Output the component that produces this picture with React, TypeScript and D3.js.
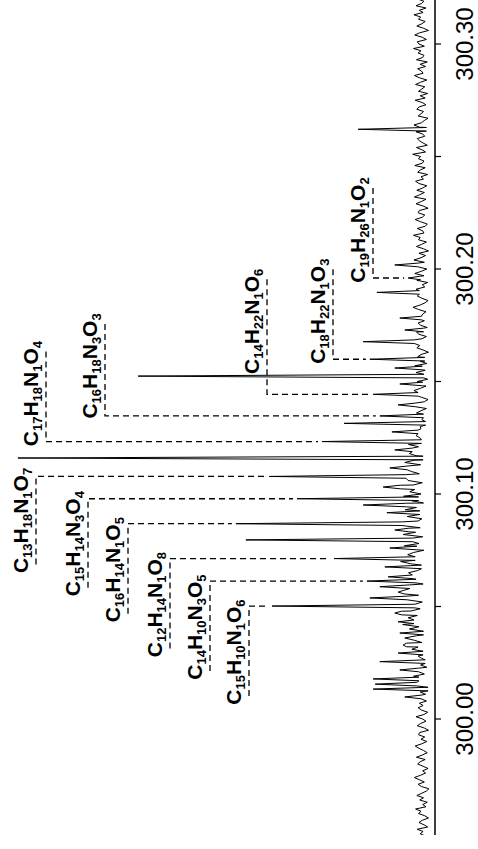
import React from 'react';
import * as d3 from 'd3';

const W = 478;
const H = 849;

// noise trace sampled along m/z (start + step * index), relative intensity
const NOISE_START = 299.948;
const NOISE_STEP = 0.001;
const noise = [
  // 299.948 - 300.029
  1.4, 2.6, 1.9, 3.3, 0.8, 1.7, 2.9, 2.1, 0.6, 1.5,
  3.0, 2.4, 3.7, 1.2, 2.0, 0.9, 2.7, 1.8, 3.4, 2.2,
  1.1, 0.5, 2.3, 3.1, 1.6, 2.8, 4.0, 2.5, 1.3, 2.0,
  0.7, 1.9, 3.2, 2.6, 1.4, 3.5, 2.1, 0.9, 1.8, 2.9,
  3.8, 2.2, 1.0, 2.4, 1.5, 3.0, 2.7, 0.6, 1.6, 3.3,
  2.5, 1.2, 2.0, 3.6, 1.7, 0.8, 2.3, 3.1, 1.9, 2.8,
  1.1, 3.9, 2.4, 1.3, 2.6, 0.7, 1.8, 3.4, 2.2, 1.5,
  2.9, 4.2, 1.6, 2.1, 3.0, 1.0, 2.5, 3.7, 1.4, 2.3,
  3.1, 1.9,
  // 300.030 - 300.129
  2.8, 4.6, 3.1, 5.9, 2.2, 4.0, 6.3, 3.5, 1.8, 4.4,
  5.2, 2.9, 6.8, 4.1, 2.4, 5.5, 3.3, 7.1, 4.8, 2.6,
  3.9, 6.0, 2.1, 4.7, 5.8, 3.0, 6.5, 2.7, 4.3, 5.1,
  1.9, 3.6, 6.9, 4.5, 2.8, 5.4, 3.2, 6.1, 2.3, 4.9,
  7.3, 3.8, 2.5, 5.6, 4.2, 1.7, 3.4, 6.4, 2.9, 5.0,
  4.4, 2.0, 6.7, 3.7, 5.3, 2.6, 4.8, 7.0, 3.1, 2.2,
  5.7, 4.0, 2.7, 6.2, 3.5, 5.9, 1.8, 4.6, 3.0, 6.6,
  2.4, 5.1, 3.9, 7.4, 4.3, 2.1, 5.5, 3.3, 6.0, 2.8,
  4.7, 3.2, 5.8, 2.5, 6.3, 4.1, 1.9, 3.6, 5.2, 2.9,
  4.5, 3.0, 5.4, 2.3, 4.0, 2.7, 3.6, 1.8, 3.1, 2.4,
  // 300.130 - 300.320
  2.6, 1.3, 3.0, 2.2, 0.9, 1.8, 3.5, 2.4, 1.1, 2.9,
  3.8, 1.6, 0.7, 2.3, 3.1, 1.9, 4.1, 2.5, 1.2, 2.0,
  3.3, 0.8, 1.7, 2.8, 3.6, 1.4, 2.1, 3.9, 1.0, 2.6,
  1.5, 3.2, 2.4, 0.6, 1.9, 3.4, 2.7, 1.3, 4.0, 2.2,
  1.1, 2.9, 3.5, 1.8, 0.9, 2.5, 3.1, 1.6, 2.3, 3.7,
  2.0, 1.2, 3.0, 4.3, 2.6, 1.4, 0.7, 2.2, 3.3, 1.9,
  2.8, 3.6, 1.5, 2.1, 0.8, 3.4, 2.5, 1.7, 3.9, 2.3,
  1.0, 2.7, 3.2, 1.6, 4.1, 2.4, 1.3, 2.9, 0.6, 1.8,
  3.5, 2.2, 1.1, 3.0, 2.6, 4.2, 1.7, 2.0, 3.3, 1.4,
  0.9, 2.5, 3.8, 2.1, 1.5, 3.1, 2.8, 0.7, 1.9, 3.6,
  2.3, 1.2, 4.0, 2.7, 1.6, 3.4, 2.0, 1.0, 2.9, 3.7,
  1.8, 2.4, 0.8, 3.2, 2.6, 1.4, 3.9, 2.1, 1.7, 3.0,
  2.5, 4.4, 1.3, 2.2, 3.5, 0.9, 1.9, 2.8, 3.3, 1.5,
  2.0, 3.6, 1.1, 2.7, 4.1, 2.3, 1.6, 0.7, 3.1, 2.4,
  1.8, 3.4, 2.9, 1.2, 2.1, 3.8, 1.4, 2.6, 0.8, 3.0,
  2.2, 1.5, 3.7, 2.5, 1.0, 2.8, 4.0, 1.9, 2.3, 3.2,
  1.3, 2.6, 0.9, 3.5, 2.0, 1.7, 3.1, 2.4, 4.2, 1.6,
  2.9, 3.3, 1.1, 2.1, 3.9, 2.7, 0.6, 1.8, 3.4, 2.2,
  1.4, 3.0, 2.5, 4.1, 1.9, 2.8, 1.2, 3.6, 2.3, 1.7,
  3.2,
];

// peaks: m/z and relative intensity
const peakMz = [
  300.2621, 300.2018, 300.1960, 300.1896, 300.1782, 300.1729, 300.1677, 300.1599,
  300.1560, 300.1524, 300.1489, 300.1443, 300.1396, 300.1347, 300.1314, 300.1276,
  300.1233, 300.1196, 300.1160, 300.1116, 300.1078, 300.1031, 300.0979, 300.0951,
  300.0917, 300.0868, 300.0840, 300.0796, 300.0760, 300.0713, 300.0676, 300.0632,
  300.0613, 300.0588, 300.0564, 300.0538, 300.0502, 300.0471, 300.0432, 300.0382,
  300.0329, 300.0293, 300.0255, 300.0218, 300.0178, 300.0155, 300.0133,
  300.0098,
];
const peakInt = [
  17.5, 8.7, 5.5, 13.0, 7.5, 6.3, 16.3, 14.7,
  8.7, 70.4, 7.5, 13.9, 7.9, 12.3, 20.9, 9.4,
  26.2, 8.7, 99.3, 9.9, 38.9, 11.5, 32.2, 16.3,
  10.6, 46.9, 8.7, 44.5, 9.9, 23.3, 11.1, 10.3,
  15.4, 12.3, 7.9, 14.7, 38.2, 8.7, 7.9, 7.5,
  6.7, 7.9, 12.3, 7.5, 13.9, 13.4, 13.9,
  6.3,
];

const majorTicks = [300.0, 300.1, 300.2, 300.3];
const minorTicks = [300.05, 300.15, 300.25];

// annotations
const formulas = [
  'C15H10N1O6', 'C14H10N3O5', 'C12H14N1O8', 'C16H14N1O5', 'C15H14N3O4', 'C13H18N1O7',
  'C17H18N1O4', 'C16H18N3O3', 'C14H22N1O6', 'C18H22N1O3', 'C19H26N1O2',
];
const formulaMz = [
  300.0502, 300.0613, 300.0713, 300.0868, 300.0979, 300.1078,
  300.1233, 300.1347, 300.1443, 300.1599, 300.1960,
];
const formulaSide = ['down', 'down', 'down', 'down', 'down', 'down', 'up', 'up', 'up', 'up', 'up'];

// layout for the annotation brackets
const bracketX = [249, 210, 170, 128, 88, 36, 46, 105, 267, 333, 373];
const bracketLen = [90, 90, 90, 90, 89, 88, 90, 92, 115, 90, 90];

const FONT = '"Liberation Sans", Arial, Helvetica, sans-serif';

function parseFormula(f: string): [string, string][] {
  const out: [string, string][] = [];
  const re = /([A-Z][a-z]?)(\d+)/g;
  let m;
  while ((m = re.exec(f)) !== null) out.push([m[1], m[2]]);
  return out;
}

export default function App() {
  const y = d3.scaleLinear().domain([300, 300.1]).range([719, 494]);
  const x = d3.scaleLinear().domain([0, 100]).range([431, 15]);

  const hw = 0.0008;
  const noisePts: [number, number][] = noise.map((v, i) => [NOISE_START + i * NOISE_STEP, v]);
  const nearestNoise = (mz: number) => {
    const i = Math.max(0, Math.min(noise.length - 1, Math.round((mz - NOISE_START) / NOISE_STEP)));
    return noise[i];
  };
  const pts: [number, number][] = noisePts.filter(
    ([mz]) => !peakMz.some((p) => Math.abs(p - mz) < hw + 0.0001)
  );
  peakMz.forEach((p, i) => {
    const b = nearestNoise(p);
    pts.push([p - hw, b]);
    pts.push([p, peakInt[i]]);
    pts.push([p + hw, b]);
  });
  pts.sort((a, b) => a[0] - b[0]);

  const line = d3
    .line<[number, number]>()
    .x((d) => x(d[1]))
    .y((d) => y(d[0]));

  const axisX = 435;
  const axisBottom = 835;

  return (
    <svg
      width={W}
      height={H}
      viewBox={`0 0 ${W} ${H}`}
      style={{ position: 'absolute', left: 0, top: 0, background: '#fff' }}
    >
      <defs>
        <clipPath id="plotclip">
          <rect x={0} y={0} width={axisX} height={axisBottom} />
        </clipPath>
      </defs>

      {/* annotation brackets */}
      {formulas.map((f, i) => {
        const cy = y(formulaMz[i]);
        const bx = bracketX[i];
        const len = bracketLen[i];
        let best = 0;
        peakMz.forEach((p, j) => {
          if (Math.abs(p - formulaMz[i]) < Math.abs(peakMz[best] - formulaMz[i])) best = j;
        });
        const tipX = x(peakInt[best]) - 4;
        const far = formulaSide[i] === 'up' ? cy - len : cy + len;
        const textCenter = formulaSide[i] === 'up' ? far + 42 : far - 44;
        const parts = parseFormula(f);
        return (
          <g key={f}>
            <path
              d={`M${bx},${far}L${bx},${cy}L${tipX},${cy}`}
              fill="none"
              stroke="#000"
              strokeWidth={1.3}
              strokeDasharray="6,4"
            />
            <text
              transform={`translate(${bx - 8},${textCenter}) rotate(-90)`}
              textAnchor="middle"
              fontFamily={FONT}
              fontWeight="bold"
              fill="#000"
            >
              {parts.map(([el, n], k) => (
                <React.Fragment key={k}>
                  <tspan fontSize={21} dy={k === 0 ? 0 : -4}>
                    {el}
                  </tspan>
                  <tspan fontSize={13} dy={4}>
                    {n}
                  </tspan>
                </React.Fragment>
              ))}
            </text>
          </g>
        );
      })}

      {/* spectrum */}
      <path
        d={line(pts) || ''}
        fill="none"
        stroke="#000"
        strokeWidth={1}
        strokeLinejoin="round"
        clipPath="url(#plotclip)"
      />

      {/* m/z axis */}
      <line x1={axisX} x2={axisX} y1={0} y2={axisBottom} stroke="#000" strokeWidth={1.5} />
      {[...majorTicks, ...minorTicks].map((t) => (
        <line key={t} x1={axisX} x2={axisX + 6} y1={y(t)} y2={y(t)} stroke="#000" strokeWidth={1.2} />
      ))}
      {majorTicks.map((t) => (
        <text
          key={t}
          transform={`translate(473,${y(t)}) rotate(-90)`}
          textAnchor="middle"
          fontFamily={FONT}
          fontSize={24}
          fill="#000"
        >
          {t.toFixed(2)}
        </text>
      ))}
    </svg>
  );
}
